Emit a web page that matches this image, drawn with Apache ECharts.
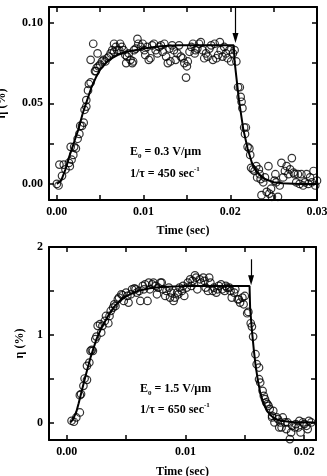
<!DOCTYPE html>
<html>
<head>
<meta charset="utf-8">
<title>ECharts</title>
<script src="https://cdn.jsdelivr.net/npm/echarts@6/dist/echarts.min.js"></script>
</head>
<body style="margin:0">
<div id="main" style="width:327px;height:476px;"></div>
<script type="text/javascript">
// measured points, E0 = 0.3 V/um  [time (sec), eta (%)]
var topPoints = [[0.0000,0.000],[0.0002,-0.001],[0.0003,0.012],[0.0008,0.012],[0.0006,0.005],[0.0010,0.009],[0.0014,0.013],[0.0015,0.011],[0.0017,0.015],[0.0019,0.018],[0.0016,0.023],[0.0020,0.023],[0.0022,0.022],[0.0024,0.028],[0.0026,0.031],[0.0027,0.036],[0.0029,0.036],[0.0031,0.038],[0.0032,0.046],[0.0034,0.048],[0.0034,0.052],[0.0036,0.058],[0.0037,0.062],[0.0039,0.063],[0.0039,0.077],[0.0042,0.087],[0.0044,0.070],[0.0045,0.070],[0.0046,0.072],[0.0047,0.081],[0.0048,0.073],[0.0050,0.074],[0.0052,0.076],[0.0054,0.077],[0.0056,0.076],[0.0058,0.078],[0.0060,0.079],[0.0062,0.081],[0.0064,0.083],[0.0066,0.087],[0.0066,0.082],[0.0068,0.085],[0.0070,0.083],[0.0072,0.083],[0.0073,0.087],[0.0075,0.085],[0.0077,0.083],[0.0079,0.080],[0.0080,0.075],[0.0081,0.079],[0.0083,0.081],[0.0085,0.077],[0.0087,0.075],[0.0088,0.076],[0.0089,0.083],[0.0091,0.084],[0.0093,0.090],[0.0094,0.087],[0.0097,0.085],[0.0099,0.087],[0.0101,0.083],[0.0102,0.080],[0.0104,0.085],[0.0106,0.077],[0.0108,0.078],[0.0110,0.086],[0.0112,0.087],[0.0114,0.083],[0.0116,0.081],[0.0118,0.085],[0.0120,0.086],[0.0122,0.082],[0.0124,0.087],[0.0126,0.079],[0.0128,0.075],[0.0130,0.084],[0.0131,0.076],[0.0133,0.086],[0.0135,0.083],[0.0137,0.077],[0.0139,0.081],[0.0141,0.086],[0.0143,0.079],[0.0145,0.078],[0.0147,0.075],[0.0149,0.066],[0.0150,0.073],[0.0151,0.076],[0.0153,0.082],[0.0155,0.085],[0.0157,0.087],[0.0159,0.081],[0.0160,0.083],[0.0162,0.084],[0.0164,0.087],[0.0166,0.088],[0.0168,0.083],[0.0170,0.078],[0.0172,0.081],[0.0174,0.079],[0.0176,0.084],[0.0178,0.086],[0.0180,0.077],[0.0182,0.087],[0.0184,0.078],[0.0186,0.080],[0.0188,0.088],[0.0189,0.083],[0.0191,0.079],[0.0193,0.085],[0.0195,0.081],[0.0197,0.078],[0.0199,0.083],[0.0201,0.076],[0.0203,0.081],[0.0205,0.083],[0.0207,0.076],[0.0209,0.060],[0.0211,0.060],[0.0212,0.054],[0.0213,0.051],[0.0214,0.047],[0.0216,0.035],[0.0217,0.031],[0.0218,0.035],[0.0220,0.023],[0.0222,0.022],[0.0223,0.018],[0.0224,0.010],[0.0226,0.009],[0.0228,0.008],[0.0230,0.011],[0.0231,0.004],[0.0233,0.009],[0.0234,0.006],[0.0235,0.003],[0.0236,-0.007],[0.0238,0.001],[0.0240,0.004],[0.0242,-0.005],[0.0244,0.011],[0.0245,-0.006],[0.0247,-0.003],[0.0248,-0.008],[0.0251,0.002],[0.0252,0.006],[0.0253,0.001],[0.0255,-0.008],[0.0257,-0.001],[0.0259,0.013],[0.0261,0.004],[0.0263,0.008],[0.0265,0.011],[0.0267,0.006],[0.0269,0.009],[0.0271,0.016],[0.0273,0.007],[0.0274,0.006],[0.0276,0.001],[0.0278,0.006],[0.0280,0.000],[0.0282,0.006],[0.0284,-0.001],[0.0286,0.001],[0.0288,0.006],[0.0290,0.000],[0.0292,0.004],[0.0294,0.001],[0.0296,0.008],[0.0298,-0.001],[0.0300,0.002]];

// fitted curve, E0 = 0.3 V/um
var topFit = [[0,0],[0.0005,0.002],[0.001,0.009],[0.0015,0.018],[0.002,0.026],[0.0025,0.034],[0.003,0.044],[0.0035,0.052],[0.004,0.060],[0.0045,0.066],[0.005,0.071],[0.0055,0.074],[0.006,0.077],[0.007,0.080],[0.008,0.082],[0.009,0.083],[0.010,0.084],[0.012,0.0855],[0.014,0.086],[0.0204,0.086],[0.0205,0.076],[0.021,0.052],[0.0215,0.034],[0.022,0.022],[0.0225,0.013],[0.023,0.008],[0.0235,0.005],[0.024,0.003],[0.025,0.001],[0.026,0.0004],[0.028,0],[0.030,0]];

// measured points, E0 = 1.5 V/um
var botPoints = [[0.0004,0.019],[0.0006,0.008],[0.0008,0.057],[0.0011,0.114],[0.0011,0.311],[0.0012,0.323],[0.0014,0.417],[0.0015,0.501],[0.0017,0.486],[0.0017,0.645],[0.0019,0.683],[0.0020,0.816],[0.0021,0.827],[0.0022,0.816],[0.0024,0.949],[0.0025,0.979],[0.0026,1.101],[0.0028,1.120],[0.0029,1.025],[0.0030,1.101],[0.0032,1.157],[0.0033,1.214],[0.0035,1.131],[0.0036,1.214],[0.0037,1.271],[0.0039,1.309],[0.0040,1.347],[0.0041,1.328],[0.0043,1.404],[0.0044,1.423],[0.0046,1.461],[0.0047,1.450],[0.0048,1.385],[0.0050,1.480],[0.0051,1.442],[0.0052,1.366],[0.0054,1.461],[0.0055,1.518],[0.0057,1.529],[0.0058,1.518],[0.0059,1.480],[0.0061,1.499],[0.0062,1.385],[0.0064,1.556],[0.0065,1.518],[0.0066,1.575],[0.0068,1.385],[0.0069,1.594],[0.0070,1.518],[0.0072,1.575],[0.0073,1.594],[0.0075,1.556],[0.0076,1.461],[0.0077,1.537],[0.0079,1.594],[0.0080,1.594],[0.0081,1.518],[0.0083,1.442],[0.0084,1.499],[0.0086,1.537],[0.0087,1.423],[0.0088,1.480],[0.0090,1.385],[0.0091,1.423],[0.0093,1.480],[0.0094,1.461],[0.0095,1.537],[0.0097,1.499],[0.0098,1.556],[0.0099,1.442],[0.0101,1.537],[0.0102,1.594],[0.0104,1.632],[0.0105,1.556],[0.0106,1.613],[0.0108,1.677],[0.0109,1.651],[0.0110,1.518],[0.0112,1.632],[0.0113,1.594],[0.0115,1.651],[0.0116,1.613],[0.0117,1.537],[0.0119,1.499],[0.0120,1.651],[0.0121,1.594],[0.0123,1.499],[0.0124,1.537],[0.0126,1.480],[0.0127,1.518],[0.0128,1.556],[0.0130,1.575],[0.0131,1.518],[0.0133,1.499],[0.0134,1.556],[0.0135,1.537],[0.0137,1.537],[0.0138,1.499],[0.0139,1.423],[0.0141,1.480],[0.0142,1.518],[0.0144,1.404],[0.0145,1.404],[0.0146,1.366],[0.0148,1.423],[0.0149,1.347],[0.0150,1.442],[0.0152,1.245],[0.0153,1.260],[0.0155,1.131],[0.0156,1.093],[0.0157,0.979],[0.0159,0.778],[0.0160,0.664],[0.0162,0.626],[0.0162,0.493],[0.0163,0.455],[0.0165,0.361],[0.0166,0.304],[0.0167,0.266],[0.0168,0.228],[0.0169,0.209],[0.0170,0.190],[0.0171,0.152],[0.0173,0.076],[0.0173,0.057],[0.0174,0.133],[0.0175,0.000],[0.0177,0.057],[0.0178,0.038],[0.0179,-0.057],[0.0180,0.000],[0.0181,-0.057],[0.0182,0.057],[0.0184,0.000],[0.0185,-0.076],[0.0186,0.000],[0.0188,-0.190],[0.0189,-0.114],[0.0190,-0.038],[0.0192,-0.057],[0.0193,-0.019],[0.0195,-0.057],[0.0196,0.019],[0.0197,-0.114],[0.0199,0.000],[0.0200,-0.019],[0.0202,-0.038],[0.0203,-0.076],[0.0204,0.019],[0.0206,0.000]];

// fitted curve, E0 = 1.5 V/um
var botFit = [[0.0003,0],[0.0005,0.03],[0.0008,0.12],[0.001,0.22],[0.0013,0.38],[0.0016,0.54],[0.002,0.74],[0.0025,0.95],[0.003,1.10],[0.0035,1.22],[0.004,1.32],[0.0045,1.39],[0.005,1.44],[0.006,1.50],[0.007,1.53],[0.008,1.545],[0.009,1.55],[0.010,1.555],[0.0154,1.555],[0.01545,1.30],[0.0156,1.05],[0.01575,0.84],[0.0159,0.66],[0.0161,0.48],[0.0163,0.34],[0.0165,0.25],[0.0168,0.15],[0.0171,0.09],[0.0175,0.045],[0.018,0.02],[0.019,0.005],[0.021,0]];

// arrows marking field switch-off
var topArrow = [[0.0206, 0.1098], [0.0206, 0.0905]];
var botArrow = [[0.01553, 1.86], [0.01553, 1.62]];

// ticks and labels
var topXTicks = [0, 0.005, 0.01, 0.015, 0.02, 0.025, 0.03];
var topXLabels = [0, 0.01, 0.02, 0.03];
var topYTicks = [0, 0.025, 0.05, 0.075, 0.1];
var topYLabels = [0, 0.05, 0.1];
var botXTicks = [0, 0.005, 0.01, 0.015, 0.02];
var botXLabels = [0, 0.01, 0.02];
var botYTicks = [0, 0.5, 1, 1.5, 2];
var botYLabels = [0, 1, 2];

var FONT = '"Liberation Serif", "Times New Roman", serif';
var txt = {fontFamily: FONT, fontWeight: 'bold', fontSize: 12, color: '#000'};

function axis(grid, pos, min, max, ticks, labels, digits, name, gap) {
    var a = {
        type: 'value', gridIndex: grid, position: pos, min: min, max: max,
        axisLine: {show: true, onZero: false, lineStyle: {color: '#000', width: 2}},
        axisTick: {show: true, inside: true, length: 5, customValues: ticks,
                   lineStyle: {color: '#000', width: 1.5}},
        splitLine: {show: false},
        axisLabel: {show: false}
    };
    if (labels) {
        a.axisLabel = {show: true, customValues: labels, margin: 6,
            fontFamily: FONT, fontWeight: 'bold', fontSize: 12, color: '#000',
            formatter: function (v) { return v.toFixed(digits); }};
        a.name = name;
        a.nameLocation = 'middle';
        a.nameGap = gap;
        a.nameTextStyle = txt;
    }
    return a;
}

var rich = {
    b: {fontFamily: FONT, fontWeight: 'bold', fontSize: 12, lineHeight: 16, verticalAlign: 'middle', color: '#000'},
    sub: {fontFamily: FONT, fontWeight: 'bold', fontSize: 7, lineHeight: 16, verticalAlign: 'bottom', color: '#000'},
    sup: {fontFamily: FONT, fontWeight: 'bold', fontSize: 7, lineHeight: 16, verticalAlign: 'top', color: '#000'}
};

function arrowLine(pts) {
    return {
        silent: true, symbol: ['none', 'triangle'], symbolSize: [6, 10],
        lineStyle: {color: '#000', width: 1.2, type: 'solid'},
        label: {show: false},
        data: [[{coord: pts[0]}, {coord: pts[1]}]]
    };
}

var circle = {color: 'rgba(0,0,0,0)', borderColor: '#000', borderWidth: 1.2};

var option = {
    animation: false,
    grid: [
        {left: 49, right: 10, top: 7, height: 193, outerBoundsMode: 'none', containLabel: false},
        {left: 49, right: 11, top: 247, height: 193, outerBoundsMode: 'none', containLabel: false}
    ],
    xAxis: [
        axis(0, 'bottom', -0.0009, 0.03, topXTicks, topXLabels, 2, 'Time (sec)', 25),
        axis(0, 'top', -0.0009, 0.03, topXTicks),
        axis(1, 'bottom', -0.0015, 0.021, botXTicks, botXLabels, 2, 'Time (sec)', 26),
        axis(1, 'top', -0.0015, 0.021, botXTicks)
    ],
    yAxis: [
        axis(0, 'left', -0.01, 0.1098, topYTicks, topYLabels, 2, 'η (%)', 41),
        axis(0, 'right', -0.01, 0.1098, topYTicks),
        axis(1, 'left', -0.2, 2, botYTicks, botYLabels, 0, 'η (%)', 22),
        axis(1, 'right', -0.2, 2, botYTicks)
    ],
    graphic: [
        {type: 'text', left: 130, top: 146, style: {text: '{b|E}{sub|0}{b| = 0.3 V/μm}', rich: rich}},
        {type: 'text', left: 130, top: 166, style: {text: '{b|1/τ = 450 sec}{sup|-1}', rich: rich}},
        {type: 'text', left: 140, top: 383, style: {text: '{b|E}{sub|0}{b| = 1.5 V/μm}', rich: rich}},
        {type: 'text', left: 140, top: 402, style: {text: '{b|1/τ = 650 sec}{sup|-1}', rich: rich}}
    ],
    series: [
        {type: 'scatter', xAxisIndex: 0, yAxisIndex: 0, data: topPoints,
         symbolSize: 7.5, itemStyle: circle, z: 3},
        {type: 'line', xAxisIndex: 0, yAxisIndex: 0, data: topFit, showSymbol: false,
         lineStyle: {color: '#000', width: 2}, z: 4, markLine: arrowLine(topArrow)},
        {type: 'scatter', xAxisIndex: 2, yAxisIndex: 2, data: botPoints,
         symbolSize: 7.5, itemStyle: circle, z: 3},
        {type: 'line', xAxisIndex: 2, yAxisIndex: 2, data: botFit, showSymbol: false,
         lineStyle: {color: '#000', width: 2}, z: 4, markLine: arrowLine(botArrow)}
    ]
};

var myChart = echarts.init(document.getElementById('main'));
myChart.setOption(option);
</script>
</body>
</html>
